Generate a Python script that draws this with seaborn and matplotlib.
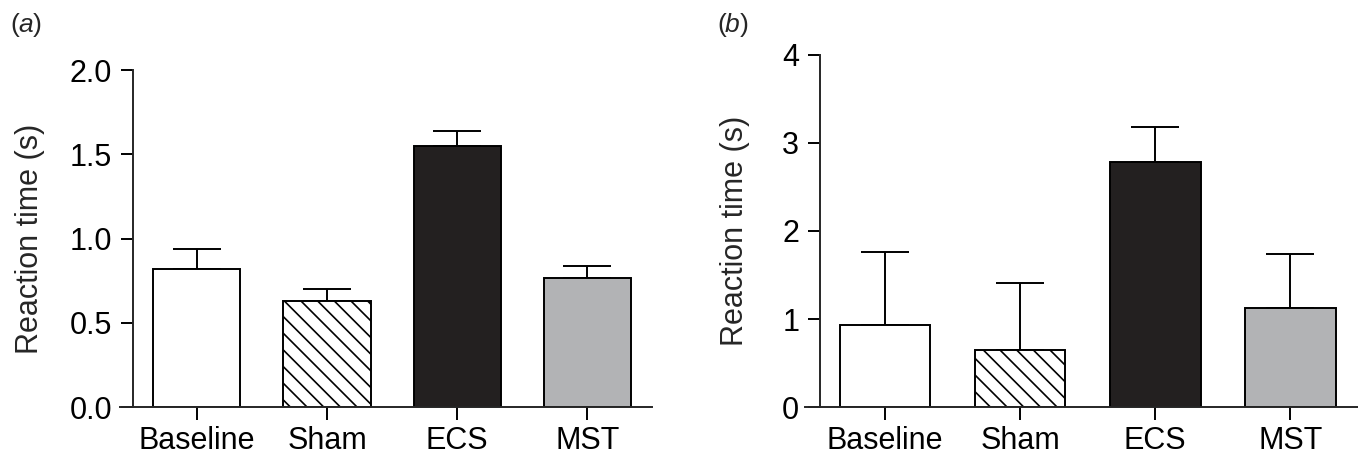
import numpy as np
import pandas as pd
import matplotlib
matplotlib.use("Agg")
import matplotlib.pyplot as plt
import seaborn as sns

# data
groups = ["Baseline", "Sham", "ECS", "MST"]
mean_a = [0.82, 0.63, 1.55, 0.765]
err_a = [0.12, 0.07, 0.09, 0.075]
mean_b = [0.93, 0.65, 2.78, 1.13]
err_b = [0.83, 0.76, 0.40, 0.61]
yticks_a = [0.0, 0.5, 1.0, 1.5, 2.0]
ytick_labels_a = ["0.0", "0.5", "1.0", "1.5", "2.0"]
yticks_b = [0, 1, 2, 3, 4]

bar_colors = ["#ffffff", "#ffffff", "#231f20", "#b1b3b6"]

sns.set_style("ticks")
plt.rcParams["font.family"] = ["Liberation Sans", "DejaVu Sans"]
plt.rcParams["hatch.linewidth"] = 1.2
plt.rcParams["axes.linewidth"] = 1.4

fig = plt.figure(figsize=(13.58, 4.62), dpi=100)
ax_a = fig.add_axes([0.0884, 0.119, 0.392, 0.729])
ax_b = fig.add_axes([0.593, 0.119, 0.407, 0.762])


def draw_panel(ax, means, errs, ymax, yticks, ylabels, spine_x, xlim, lpad):
    df = pd.DataFrame({"group": groups, "rt": means})
    sns.barplot(data=df, x="group", y="rt", hue="group", palette=bar_colors,
                legend=False, edgecolor="black", linewidth=1.4, width=0.67,
                ax=ax, errorbar=None)
    ax.patches[1].set_hatch("\\\\")
    ax.errorbar(range(len(groups)), means, yerr=[[0] * len(errs), errs],
                fmt="none", ecolor="black", elinewidth=1.4, capsize=17,
                capthick=1.4, zorder=1)
    ax.set_xlim(*xlim)
    ax.set_ylim(0, ymax)
    ax.spines["top"].set_visible(False)
    ax.spines["right"].set_visible(False)
    ax.spines["left"].set_position(("data", spine_x))
    ax.spines["left"].set_bounds(0, ymax)
    ax.set_yticks(yticks)
    ax.set_yticklabels(ylabels)
    ax.tick_params(axis="both", direction="out", length=9, width=1.4,
                   labelsize=22, colors="black")
    ax.tick_params(axis="y", pad=6)
    ax.tick_params(axis="x", pad=5)
    ax.set_xlabel("")
    ax.set_ylabel("Reaction time (s)", fontsize=22, labelpad=lpad)
    for p in ax.patches:
        p.set_zorder(2)


draw_panel(ax_a, mean_a, err_a, 2.0, yticks_a, ytick_labels_a, -0.49, (-0.59, 3.5), 18)
draw_panel(ax_b, mean_b, err_b, 4.0, yticks_b, [str(t) for t in yticks_b], -0.48, (-0.59, 3.5), 23)

fig.text(0.008, 0.93, "(", fontsize=19)
fig.text(0.0135, 0.93, "a", fontsize=19, style="italic")
fig.text(0.0245, 0.93, ")", fontsize=19)
fig.text(0.528, 0.93, "(", fontsize=19)
fig.text(0.5335, 0.93, "b", fontsize=19, style="italic")
fig.text(0.5445, 0.93, ")", fontsize=19)

fig.savefig("out.png", dpi=100)
